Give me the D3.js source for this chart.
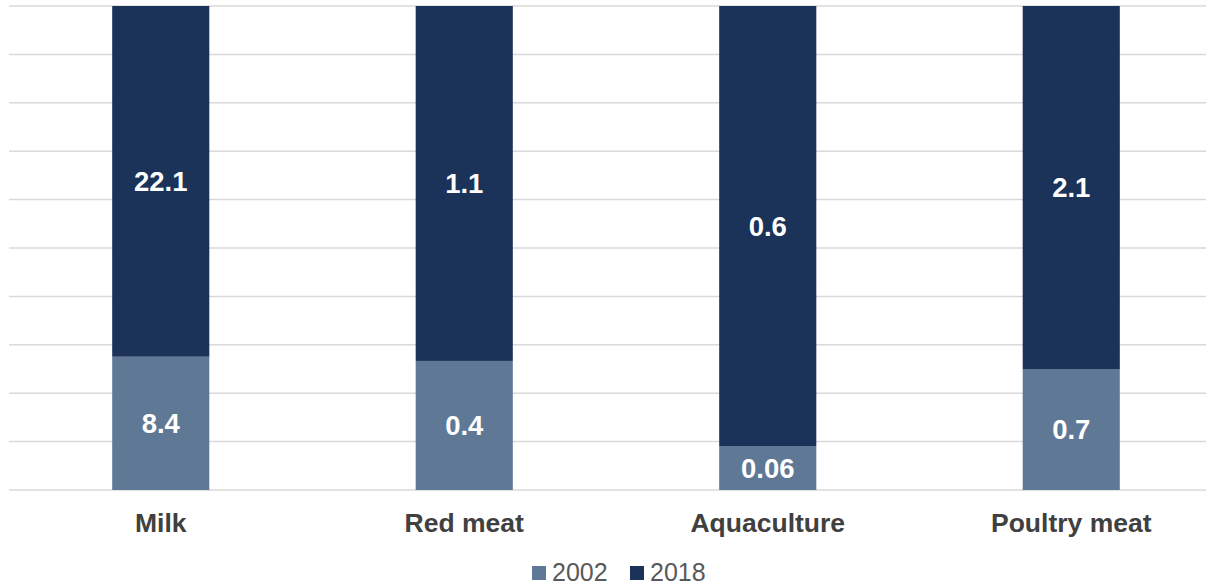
<!DOCTYPE html>
<html>
<head>
<meta charset="utf-8">
<script src="https://cdn.jsdelivr.net/npm/d3@7"></script>
<style>
  html, body { margin: 0; padding: 0; background: #fff; }
  svg { display: block; font-family: "Liberation Sans", Arial, sans-serif; }
</style>
</head>
<body>
<svg id="chart" width="1206" height="587"></svg>
<script>
// Production by sector, 2002 vs 2018
const categories = ["Milk", "Red meat", "Aquaculture", "Poultry meat"];
const values2002 = [8.4, 0.4, 0.06, 0.7];
const values2018 = [22.1, 1.1, 0.6, 2.1];
const seriesNames = ["2002", "2018"];
const gridTicks = [0, 0.1, 0.2, 0.3, 0.4, 0.5, 0.6, 0.7, 0.8, 0.9, 1];

const colors = { "2002": "#5f7895", "2018": "#1b3259" };

const svg = d3.select("#chart");
const W = 1206, H = 587;
const plot = { left: 9, right: 1223, top: 6, bottom: 490 };

const rows = categories.map((c, i) => ({ category: c, "2002": values2002[i], "2018": values2018[i] }));
const stacked = d3.stack().keys(seriesNames).offset(d3.stackOffsetExpand)(rows);

const x = d3.scaleBand().domain(categories).range([plot.left, plot.right]).paddingInner(0.68).paddingOuter(0.34);
const y = d3.scaleLinear().domain([0, 1]).range([plot.bottom, plot.top]);

// gridlines
svg.append("g")
  .selectAll("line")
  .data(gridTicks)
  .join("line")
  .attr("x1", plot.left).attr("x2", W)
  .attr("y1", d => y(d)).attr("y2", d => y(d))
  .attr("stroke", "#d9d9d9")
  .attr("stroke-width", 1.5);

// stacked bars
const layers = svg.append("g")
  .selectAll("g")
  .data(stacked)
  .join("g")
  .attr("fill", d => colors[d.key]);

layers.selectAll("rect")
  .data(d => d.map(p => ({ p, key: d.key })))
  .join("rect")
  .attr("x", d => x(d.p.data.category))
  .attr("width", x.bandwidth())
  .attr("y", d => y(d.p[1]))
  .attr("height", d => y(d.p[0]) - y(d.p[1]));

// value labels
layers.selectAll("text")
  .data(d => d.map(p => ({ p, key: d.key })))
  .join("text")
  .attr("x", d => x(d.p.data.category) + x.bandwidth() / 2)
  .attr("y", d => (y(d.p[0]) + y(d.p[1])) / 2)
  .attr("dy", "0.36em")
  .attr("text-anchor", "middle")
  .attr("fill", "#ffffff")
  .attr("font-weight", "bold")
  .attr("font-size", 27.5)
  .text(d => d.p.data[d.key]);

// category axis
const xAxis = svg.append("g")
  .attr("transform", `translate(0,${plot.bottom})`)
  .call(d3.axisBottom(x).tickSize(0).tickPadding(0));
xAxis.select(".domain").remove();
xAxis.selectAll("text")
  .attr("y", 42)
  .attr("dy", 0)
  .attr("font-family", "Liberation Sans, Arial, sans-serif")
  .attr("font-size", 26.5)
  .attr("font-weight", "bold")
  .attr("fill", "#404040");

// legend
const legend = svg.append("g").attr("transform", "translate(532,0)");
const legendX = [0, 98];
const items = legend.selectAll("g")
  .data(seriesNames)
  .join("g")
  .attr("transform", (d, i) => `translate(${legendX[i]},0)`);
items.append("rect")
  .attr("x", 0).attr("y", 566)
  .attr("width", 14).attr("height", 14)
  .attr("fill", d => colors[d]);
items.append("text")
  .attr("x", 20).attr("y", 581)
  .attr("font-size", 25)
  .attr("fill", "#595959")
  .text(d => d);
</script>
</body>
</html>
